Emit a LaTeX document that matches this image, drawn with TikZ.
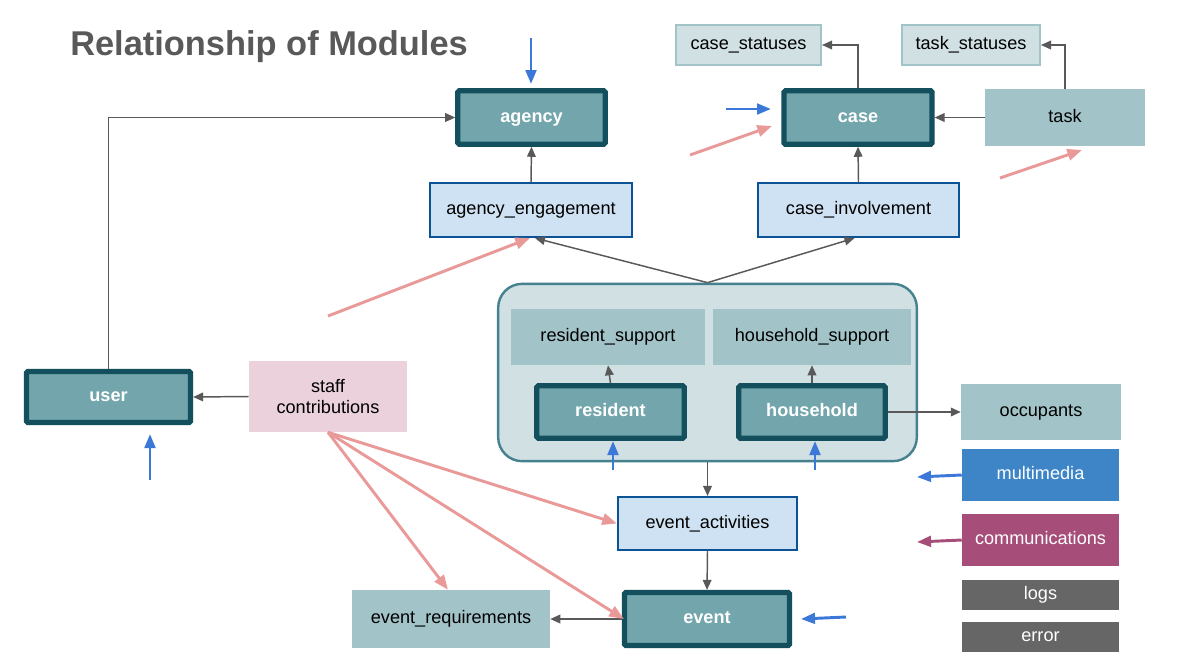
\documentclass[tikz,border=0pt]{standalone}
\usepackage{fontspec}
\setmainfont{Liberation Sans}
\usetikzlibrary{arrows.meta,calc}
\definecolor{dk}{HTML}{134F5C}
\definecolor{mainfill}{HTML}{72A5AC}
\definecolor{lt2}{HTML}{A2C4C9}
\definecolor{lt3}{HTML}{D0E0E3}
\definecolor{dk1}{HTML}{45818E}
\definecolor{aefill}{HTML}{CFE2F3}
\definecolor{aeborder}{HTML}{0B5394}
\definecolor{stafffill}{HTML}{EAD1DC}
\definecolor{mmfill}{HTML}{3D85C6}
\definecolor{comfill}{HTML}{A64D79}
\definecolor{logfill}{HTML}{666666}
\definecolor{pinkc}{HTML}{EA9999}
\definecolor{bluec}{HTML}{3C78D8}
\definecolor{grayc}{HTML}{595959}
\definecolor{titlec}{HTML}{595959}
\begin{document}
\begin{tikzpicture}[x=0.75pt,y=-0.75pt,
  base0/.style={inner sep=0pt,align=center,font=\fontsize{13.6}{16}\selectfont},
  base/.style={base0,text height=0.7em,text depth=0pt},
  mainbox/.style={base,draw=dk,line width=3.9pt,fill=mainfill,text=white,font=\fontsize{13.6}{16}\selectfont\bfseries,rounded corners=1pt},
  linkbox/.style={base,draw=aeborder,line width=1.6pt,fill=aefill},
  subbox/.style={base,fill=lt2},
  statbox/.style={base,draw=lt2,line width=1.5pt,fill=lt3},
  conn/.style={draw=grayc,line width=1.1pt,-{Triangle[length=7.5pt,width=6.5pt]}},
  pinkarr/.style={draw=pinkc,line width=2.2pt,-{Triangle[length=11pt,width=8.5pt]}},
  bluearr/.style={draw=bluec,line width=2.2pt,-{Triangle[length=10.5pt,width=8pt]}},
  comarr/.style={draw=comfill,line width=2.2pt,-{Triangle[length=10.5pt,width=8pt]}}
]
\useasboundingbox (0,0) rectangle (1194,665);
\fill[white] (0,0) rectangle (1194,665);

\node[anchor=base west,inner sep=0pt,text=titlec,font=\fontsize{25.8}{30}\selectfont\bfseries] (title) at (70,55) {Relationship of Modules};

% container
\node[draw=dk1,line width=1.8pt,fill=lt3,rounded corners=18pt,minimum width=314pt,minimum height=133pt,inner sep=0pt] (cont) at (707.5,372.5) {};

\node[mainbox,minimum width=110.5pt,minimum height=40pt] (agency) at (531.5,117.5) {agency};
\node[linkbox,minimum width=151.5pt,minimum height=40.5pt] (ae) at (531,210) {agency\_engagement};
\node[mainbox,minimum width=111pt,minimum height=40pt] (case) at (858,117.5) {case};
\node[linkbox,minimum width=150.75pt,minimum height=40.5pt] (ci) at (858.5,210) {case\_involvement};
\node[statbox,minimum width=108.75pt,minimum height=30pt] (cs) at (748.5,45) {case\_statuses};
\node[statbox,minimum width=103.5pt,minimum height=30pt] (ts) at (971,45) {task\_statuses};
\node[subbox,minimum width=120pt,minimum height=42.75pt] (task) at (1065,117.5) {task};

\node[subbox,minimum width=145.5pt,minimum height=42pt] (rs) at (608,337) {resident\_support};
\node[subbox,minimum width=148.5pt,minimum height=42pt] (hs) at (812,337) {household\_support};
\node[mainbox,minimum width=110.5pt,minimum height=39.25pt] (res) at (610.5,412) {resident};
\node[mainbox,minimum width=109.75pt,minimum height=39.25pt] (hh) at (812,412) {household};
\node[subbox,minimum width=120pt,minimum height=42pt] (occ) at (1041,412) {occupants};

\node[base,fill=mmfill,text=white,minimum width=117.75pt,minimum height=39pt] (mm) at (1040.5,475) {multimedia};
\node[base,fill=comfill,text=white,minimum width=117.75pt,minimum height=39pt] (com) at (1040.5,540) {communications};
\node[base,fill=logfill,text=white,minimum width=117.75pt,minimum height=22.5pt] (logs) at (1040.5,595) {logs};
\node[base,fill=logfill,text=white,minimum width=117.75pt,minimum height=22.5pt] (err) at (1040.5,637) {error};

\node[linkbox,minimum width=134.25pt,minimum height=39.75pt] (ea) at (707.5,523.5) {event\_activities};
\node[mainbox,minimum width=123.75pt,minimum height=39.75pt] (event) at (707,619) {event};
\node[subbox,minimum width=148.5pt,minimum height=43.5pt] (er) at (451,619) {event\_requirements};

\node[mainbox,minimum width=123pt,minimum height=38.25pt] (user) at (108.5,397) {user};
\node[base0,fill=stafffill,minimum width=118.5pt,minimum height=53.25pt] (staff) at (328,396.5) {staff\\contributions};

% gray connectors
\draw[conn] (user.north) |- (agency.west);
\draw[conn] (staff.west) -- (user.east);
\draw[conn] (ae.north) -- (agency.south);
\draw[conn] (ci.north) -- (case.south);
\draw[conn] (case.north) |- (cs.east);
\draw[conn] (task.north) |- (ts.east);
\draw[conn] (task.west) -- (case.east);
\draw[conn] (cont.north) -- ($(ae.south)+(4,0)$);
\draw[conn] (cont.north) -- ($(ci.south)+(-4,0)$);
\draw[conn] (res.north) -- (rs.south);
\draw[conn] (hh.north) -- (hs.south);
\draw[conn] (hh.east) -- (occ.west);
\draw[conn] (cont.south) -- (ea.north);
\draw[conn] (ea.south) -- (event.north);
\draw[conn] (event.west) -- (er.east);

% pink arrows
\draw[pinkarr] (staff.south) -- ($(er.north)+(-3,0)$);
\draw[pinkarr] (staff.south) -- (ea.west);
\draw[pinkarr] (staff.south) -- ($(event.west)+(2,0)$);
\coordinate (p1s) at (328,316);
\coordinate (p1e) at (530,238);
\draw[pinkarr] (p1s) -- (p1e);
\coordinate (p2s) at (690,155);
\coordinate (p2e) at (772,126);
\draw[pinkarr] (p2s) -- (p2e);
\coordinate (p3s) at (1000,178);
\coordinate (p3e) at (1082,150);
\draw[pinkarr] (p3s) -- (p3e);

% blue arrows
\coordinate (b1s) at (531,38);
\coordinate (b1e) at (531,84);
\draw[bluearr] (b1s) -- (b1e);
\coordinate (b2s) at (726,109);
\coordinate (b2e) at (771,109);
\draw[bluearr] (b2s) -- (b2e);
\coordinate (b3s) at (150,480);
\coordinate (b3e) at (150,434);
\draw[bluearr] (b3s) -- (b3e);
\coordinate (b4s) at (613,470);
\coordinate (b4e) at (613,441);
\draw[bluearr] (b4s) -- (b4e);
\coordinate (b5s) at (815,470);
\coordinate (b5e) at (815,441);
\draw[bluearr] (b5s) -- (b5e);
\coordinate (b6e) at (917,477);
\draw[bluearr] (mm.west) -- (b6e);
\coordinate (c1e) at (917,542);
\draw[comarr] (com.west) -- (c1e);
\coordinate (b7s) at (846,617);
\coordinate (b7e) at (801,619);
\draw[bluearr] (b7s) -- (b7e);
\end{tikzpicture}
\end{document}
